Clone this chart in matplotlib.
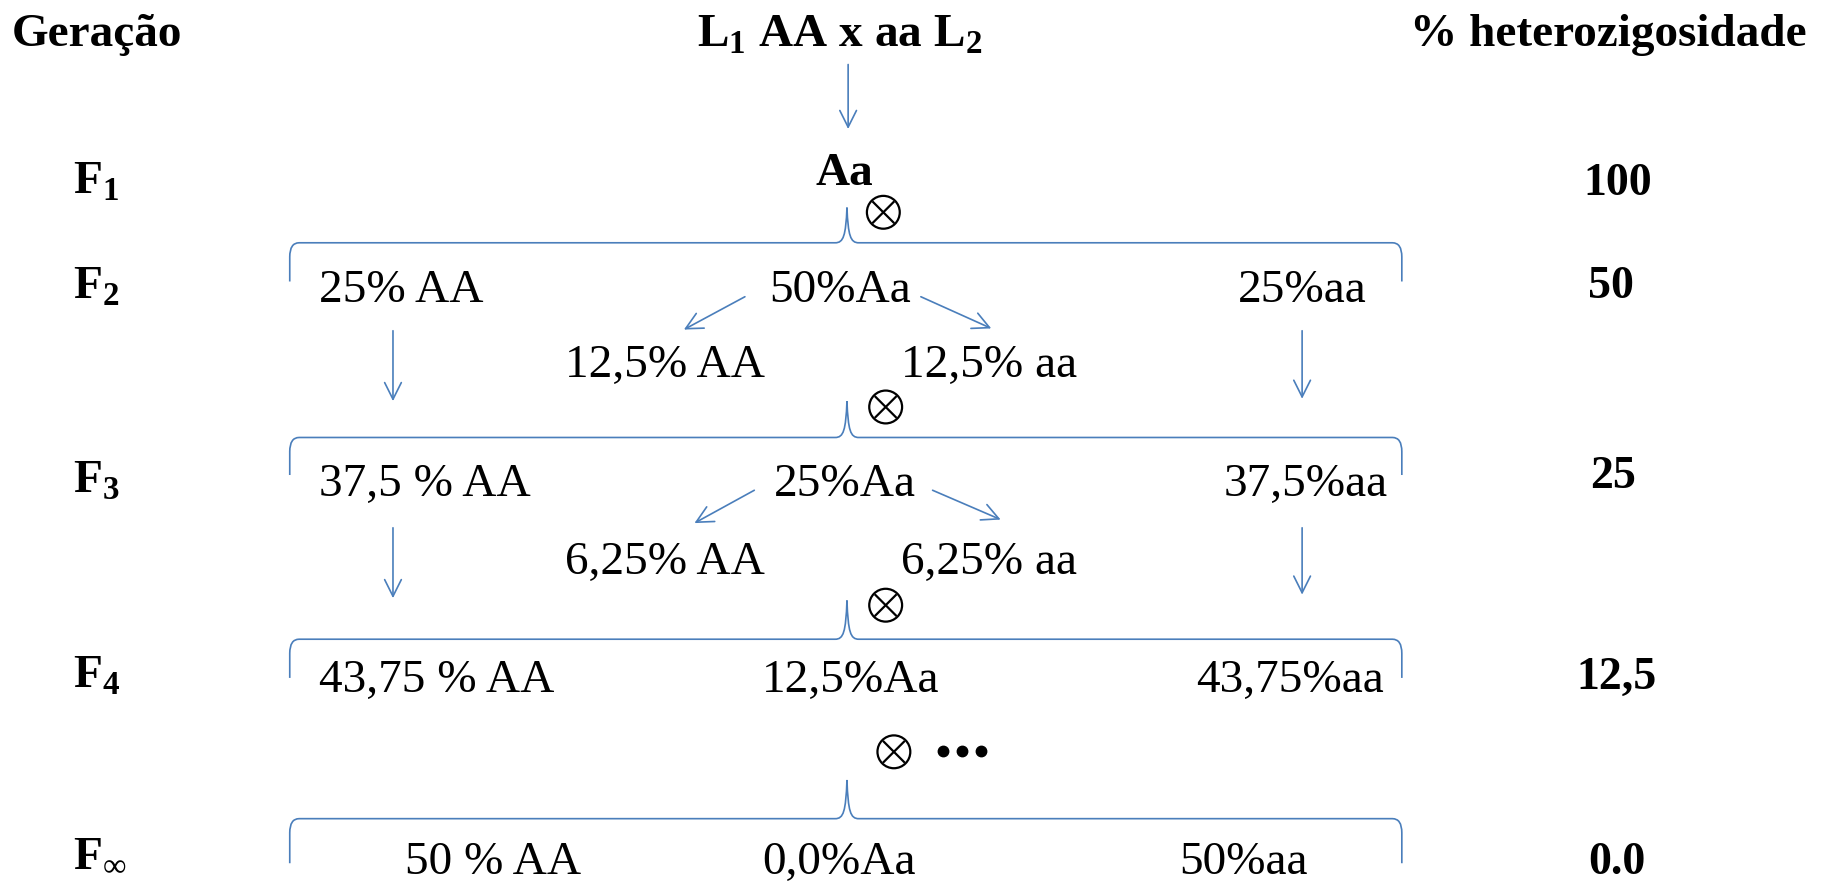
import matplotlib
matplotlib.use("Agg")
import matplotlib.pyplot as plt
from matplotlib.path import Path
from matplotlib.patches import PathPatch, Circle

plt.rcParams['font.family'] = ['Liberation Serif', 'DejaVu Sans']
plt.rcParams['mathtext.fontset'] = 'custom'
plt.rcParams['mathtext.rm'] = 'Liberation Serif'
plt.rcParams['mathtext.bf'] = 'Liberation Serif:bold'

# data
generations = ['1', '2', '3', '4', r'\infty']
heterozygosity = ['100', '50', '25', '12,5', '0.0']
parents = r'L$_\mathbf{1}$ AA x aa L$_\mathbf{2}$'
f1_genotype = 'Aa'
row_f2 = ['25% AA', '50%Aa', '25%aa']
split_f2 = ['12,5% AA', '12,5% aa']
row_f3 = ['37,5 % AA', '25%Aa', '37,5%aa']
split_f3 = ['6,25% AA', '6,25% aa']
row_f4 = ['43,75 % AA', '12,5%Aa', '43,75%aa']
row_finf = ['50 % AA', '0,0%Aa', '50%aa']

# layout (drawing units, 1560 x 752 frame)
W, H = 1560, 752
blue = '#4A7EBB'
fs = 34
gen_y = [155, 245, 410, 577, 729]
het_x = [1379, 1373, 1375, 1378, 1378]
het_y = [157, 245, 407, 578, 736]

fig = plt.figure(figsize=(18.3, 8.82), dpi=100)
ax = fig.add_axes([0, 0, 1, 1])
ax.set_xlim(0, W)
ax.set_ylim(H, 0)
ax.axis('off')


def arrow(x0, y0, x1, y1):
    ax.annotate('', xy=(x1, y1), xytext=(x0, y0),
                arrowprops=dict(arrowstyle='->,head_length=0.6,head_width=0.3',
                                color=blue, lw=1.2, shrinkA=0, shrinkB=0,
                                mutation_scale=20))


def brace(y, top, bottom, left=247, right=1195, mid=722):
    verts = [(left, bottom), (left, y + 12), (left, y), (left + 8, y),
             (mid - 10, y), (mid - 3, y), (mid - 1, y - 6), (mid, top),
             (mid + 1, y - 6), (mid + 3, y), (mid + 10, y),
             (right - 8, y), (right, y), (right, y + 12), (right, bottom)]
    codes = [Path.MOVETO, Path.LINETO, Path.CURVE3, Path.CURVE3,
             Path.LINETO, Path.CURVE4, Path.CURVE4, Path.CURVE4,
             Path.CURVE4, Path.CURVE4, Path.CURVE4,
             Path.LINETO, Path.CURVE3, Path.CURVE3, Path.LINETO]
    ax.add_patch(PathPatch(Path(verts, codes), fill=False, edgecolor=blue, lw=1.2))


def otimes(x, y, r=14):
    ax.add_patch(Circle((x, y), r, fill=False, edgecolor='black', lw=1.6))
    d = r * 0.62
    ax.plot([x - d, x + d], [y - d, y + d], color='black', lw=1.6)
    ax.plot([x - d, x + d], [y + d, y - d], color='black', lw=1.6)


# headers
ax.text(10, 30, 'Geração', fontsize=fs, fontweight='bold', va='center')
ax.text(716, 30, parents, fontsize=fs, fontweight='bold', ha='center', va='center')
ax.text(1540, 30, '% heterozigosidade', fontsize=fs, fontweight='bold',
        ha='right', va='center')

# generation labels and heterozygosity
for g, y in zip(generations, gen_y):
    sub = r'\infty' if g == r'\infty' else r'\mathbf{%s}' % g
    ax.text(62, y, r'$\mathbf{F}_{%s}$' % sub, fontsize=fs, va='center')
for h, x, y in zip(heterozygosity, het_x, het_y):
    ax.text(x, y, h, fontsize=33, fontweight='bold', ha='center', va='center')

# F1
arrow(723, 55, 723, 110)
ax.text(720, 148, f1_genotype, fontsize=fs, fontweight='bold', ha='center', va='center')
otimes(753, 181)
brace(207, 177, 240)

# F2
ax.text(272, 248, row_f2[0], fontsize=fs, va='center')
ax.text(716, 248, row_f2[1], fontsize=fs, ha='center', va='center')
ax.text(1110, 248, row_f2[2], fontsize=fs, ha='center', va='center')
ax.text(567, 312, split_f2[0], fontsize=fs, ha='center', va='center')
ax.text(843, 312, split_f2[1], fontsize=fs, ha='center', va='center')
arrow(635, 253, 583, 281)
arrow(785, 253, 845, 280)
arrow(335, 282, 335, 342)
arrow(1110, 282, 1110, 340)
otimes(755, 347)
brace(373, 342, 405)

# F3
ax.text(272, 413, row_f3[0], fontsize=fs, va='center')
ax.text(720, 413, row_f3[1], fontsize=fs, ha='center', va='center')
ax.text(1113, 413, row_f3[2], fontsize=fs, ha='center', va='center')
ax.text(567, 480, split_f3[0], fontsize=fs, ha='center', va='center')
ax.text(843, 480, split_f3[1], fontsize=fs, ha='center', va='center')
arrow(643, 418, 592, 446)
arrow(795, 418, 853, 443)
arrow(335, 450, 335, 510)
arrow(1110, 450, 1110, 507)
otimes(755, 516)
brace(545, 512, 578)

# F4
ax.text(272, 580, row_f4[0], fontsize=fs, va='center')
ax.text(725, 580, row_f4[1], fontsize=fs, ha='center', va='center')
ax.text(1100, 580, row_f4[2], fontsize=fs, ha='center', va='center')
otimes(762, 641)
ax.plot([804, 820, 836], [640, 640, 640], 'o', color='black', markersize=7.5,
        linestyle='none')
brace(698, 665, 736)

# F infinity
ax.text(420, 736, row_finf[0], fontsize=fs, ha='center', va='center')
ax.text(715, 736, row_finf[1], fontsize=fs, ha='center', va='center')
ax.text(1060, 736, row_finf[2], fontsize=fs, ha='center', va='center')

fig.savefig('out.png', dpi=100)
